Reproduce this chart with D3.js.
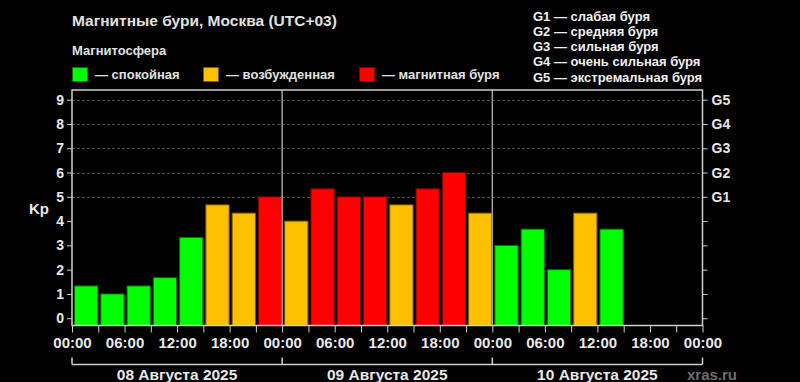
<!DOCTYPE html>
<html>
<head>
<meta charset="utf-8">
<script src="https://cdn.jsdelivr.net/npm/d3@7"></script>
<style>
  html, body { margin: 0; padding: 0; background: #000; }
  svg { display: block; font-family: Arial, "Liberation Sans", sans-serif; font-weight: bold; }
</style>
</head>
<body>
<div id="chart"></div>
<script>
// Kp index, 3-hour slots starting 08.08.2025 00:00
var kpValues = [1.33, 1.0, 1.33, 1.67, 3.33, 4.67, 4.33, 5.0,
                4.0, 5.33, 5.0, 5.0, 4.67, 5.33, 6.0, 4.33,
                3.0, 3.67, 2.0, 4.33, 3.67];
var dayLabels = ["08 Августа 2025", "09 Августа 2025", "10 Августа 2025"];
var hourLabels = ["00:00", "06:00", "12:00", "18:00"];
var kpTicks = [0, 1, 2, 3, 4, 5, 6, 7, 8, 9];
var gLabels = ["G1", "G2", "G3", "G4", "G5"];
var gLegend = ["G1 — слабая буря", "G2 — средняя буря", "G3 — сильная буря",
               "G4 — очень сильная буря", "G5 — экстремальная буря"];
var stateNames = ["— спокойная", "— возбужденная", "— магнитная буря"];
var stateColors = ["#00ff00", "#ffc000", "#ff0000"];
var stateStroke = ["#0a6a0a", "#7a5a00", "#7a0000"];

var width = 800, height = 382;
var margin = {top: 90, right: 97.5, bottom: 56.5, left: 72};
var pw = width - margin.left - margin.right,
    ph = height - margin.top - margin.bottom;

var svg = d3.select("#chart").append("svg")
    .attr("width", width)
    .attr("height", height);

var start = Date.UTC(2025, 7, 8);
var hour = 3600 * 1000;

var x = d3.scaleUtc()
    .domain([new Date(start), new Date(start + 72 * hour)])
    .range([margin.left, margin.left + pw]);
var y = d3.scaleLinear()
    .domain([-0.3, 9.4])
    .range([margin.top + ph, margin.top]);
var color = d3.scaleThreshold().domain([4, 5]).range(stateColors);
var stroke = d3.scaleThreshold().domain([4, 5]).range(stateStroke);

// title + legends
svg.append("text").attr("x", 72).attr("y", 26)
    .attr("fill", "#e0e0e0").style("font-size", "15.5px")
    .text("Магнитные бури, Москва (UTC+03)");
svg.append("text").attr("x", 72).attr("y", 55)
    .attr("fill", "#e0e0e0").style("font-size", "13px")
    .text("Магнитосфера");

var legX = [72, 203, 359];
stateNames.forEach(function(name, i) {
    svg.append("rect")
        .attr("x", legX[i] + 0.5).attr("y", 67.5)
        .attr("width", 15).attr("height", 14)
        .attr("fill", stateColors[i]).attr("stroke", stateStroke[i]);
    svg.append("text").attr("x", legX[i] + 23).attr("y", 78.5)
        .attr("fill", "#e0e0e0").style("font-size", "13px")
        .text(name);
});

svg.append("g").selectAll("text").data(gLegend).join("text")
    .attr("x", 533)
    .attr("y", function(d, i) { return 20.5 + i * 15.3; })
    .attr("fill", "#f0f0f0").style("font-size", "13px")
    .text(function(d) { return d; });

// grid (storm levels only)
svg.append("g").selectAll("line").data(kpTicks.filter(function(d) { return d >= 5; }))
    .join("line")
    .attr("x1", margin.left).attr("x2", margin.left + pw)
    .attr("y1", function(d) { return Math.round(y(d)) + 0.5; })
    .attr("y2", function(d) { return Math.round(y(d)) + 0.5; })
    .attr("stroke", "#4a4a4a").attr("stroke-dasharray", "3,2");

// bars
var slotW = x(new Date(start + 3 * hour)) - x(new Date(start));
svg.append("g").selectAll("rect").data(kpValues).join("rect")
    .attr("x", function(d, i) { return x(new Date(start + i * 3 * hour)) + 2.5; })
    .attr("y", function(d) { return y(d); })
    .attr("width", slotW - 3)
    .attr("height", function(d) { return y(-0.3) - y(d); })
    .attr("fill", function(d) { return color(d); })
    .attr("stroke", function(d) { return stroke(d); })
    .attr("stroke-width", 1);

// day separators
svg.append("g").selectAll("line").data([1, 2]).join("line")
    .attr("x1", function(d) { return x(new Date(start + d * 24 * hour)); })
    .attr("x2", function(d) { return x(new Date(start + d * 24 * hour)); })
    .attr("y1", margin.top).attr("y2", margin.top + ph)
    .attr("stroke", "#a0a0a0").attr("stroke-width", 1.5);

// frame
svg.append("rect")
    .attr("x", margin.left).attr("y", margin.top)
    .attr("width", pw).attr("height", ph)
    .attr("fill", "none").attr("stroke", "#cfcfcf").attr("stroke-width", 1.5);

// left axis
var yAxis = svg.append("g")
    .attr("transform", "translate(" + margin.left + ",0)")
    .call(d3.axisLeft(y).tickValues(kpTicks).tickSize(5).tickPadding(3));
yAxis.select(".domain").remove();
yAxis.selectAll("line").attr("stroke", "#cfcfcf");
yAxis.selectAll("text").attr("fill", "#e8e8e8")
    .style("font-size", "14px").style("font-family", null);

svg.append("text").attr("x", 29).attr("y", 213.5)
    .attr("fill", "#e8e8e8").style("font-size", "15px").text("Kp");

// right axis
var rAxis = svg.append("g")
    .attr("transform", "translate(" + (margin.left + pw) + ",0)")
    .call(d3.axisRight(y).tickValues(kpTicks).tickSize(5).tickPadding(4)
        .tickFormat(function(d) { return d >= 5 ? gLabels[d - 5] : ""; }));
rAxis.select(".domain").remove();
rAxis.selectAll("line").attr("stroke", "#cfcfcf");
rAxis.selectAll("text").attr("fill", "#e8e8e8")
    .style("font-size", "14px").style("font-family", null);

// bottom axis
var xAxis = svg.append("g")
    .attr("transform", "translate(0," + (margin.top + ph) + ")")
    .call(d3.axisBottom(x).ticks(d3.utcHour.every(3)).tickSize(7).tickPadding(5)
        .tickFormat(function(d) {
            var h = d.getUTCHours();
            return h % 6 === 0 ? hourLabels[h / 6] : "";
        }));
xAxis.select(".domain").remove();
xAxis.selectAll("line").attr("stroke", "#cfcfcf");
xAxis.selectAll("text").attr("fill", "#e8e8e8")
    .style("font-size", "15px").style("font-family", null);

// day brackets
var bracketY = 364.5;
svg.append("line")
    .attr("x1", margin.left).attr("x2", margin.left + pw)
    .attr("y1", bracketY).attr("y2", bracketY)
    .attr("stroke", "#cfcfcf").attr("stroke-width", 1.5);
svg.append("g").selectAll("line").data([0, 1, 2, 3]).join("line")
    .attr("x1", function(d) { return x(new Date(start + d * 24 * hour)); })
    .attr("x2", function(d) { return x(new Date(start + d * 24 * hour)); })
    .attr("y1", bracketY - 7).attr("y2", bracketY)
    .attr("stroke", "#cfcfcf").attr("stroke-width", 1.5);
svg.append("g").selectAll("text").data(dayLabels).join("text")
    .attr("x", function(d, i) { return x(new Date(start + (i * 24 + 12) * hour)); })
    .attr("y", 379.5)
    .attr("text-anchor", "middle")
    .attr("fill", "#e8e8e8").style("font-size", "15.5px")
    .text(function(d) { return d; });

svg.append("text").attr("x", 687).attr("y", 379.5)
    .attr("fill", "#6e6e6e").style("font-size", "15px").text("xras.ru");
</script>
</body>
</html>
